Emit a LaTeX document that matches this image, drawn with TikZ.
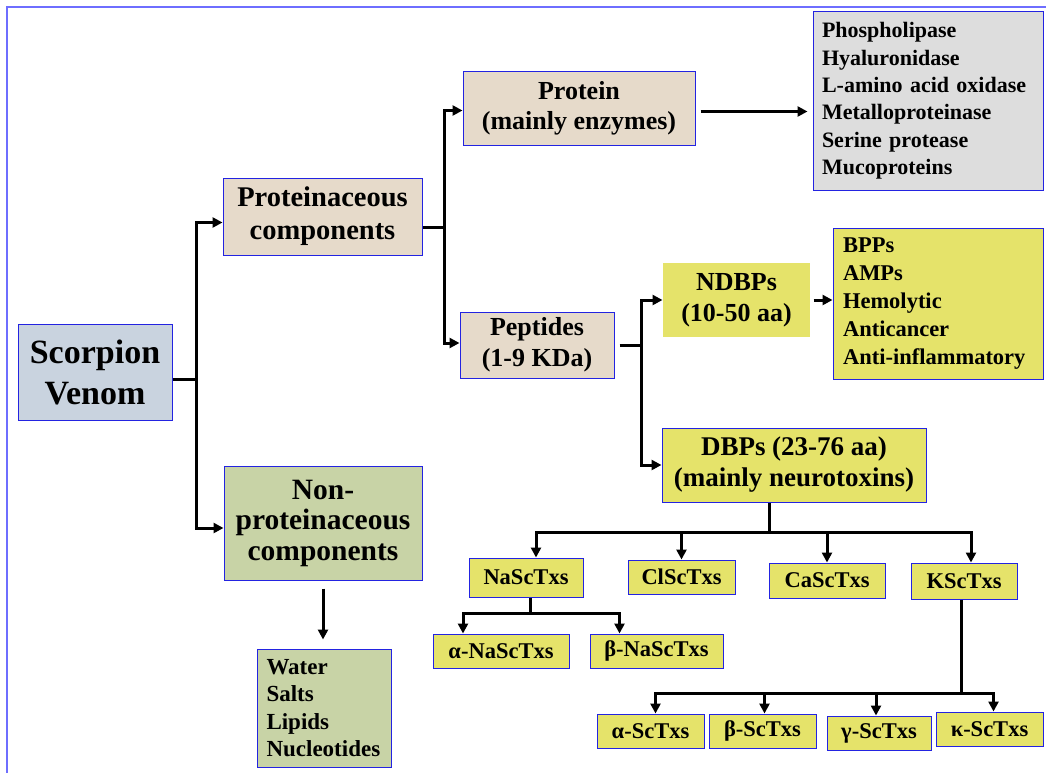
\documentclass[tikz,border=0pt]{standalone}
\usepackage{fontspec}
\setmainfont{Liberation Serif}
\usetikzlibrary{arrows.meta}
\definecolor{bord}{RGB}{35,35,225}
\definecolor{framec}{RGB}{110,110,255}
\definecolor{venomc}{RGB}{201,211,223}
\definecolor{beige}{RGB}{230,218,202}
\definecolor{greenc}{RGB}{200,211,166}
\definecolor{grayc}{RGB}{221,221,221}
\definecolor{yell}{RGB}{229,227,106}
\newcommand{\myfs}[2]{\fontsize{#1}{#2}\selectfont\bfseries}
\begin{document}
\begin{tikzpicture}[x=1pt,y=-1pt,
  box/.style={draw=bord, line width=1pt, inner sep=0pt, align=center},
  lst/.style={draw=bord, line width=1pt, inner xsep=9pt, inner ysep=0pt, align=left},
  conn/.style={line width=3pt, line join=miter},
  arr/.style={line width=3pt, line join=miter, -{Triangle[length=10pt,width=10pt]}},
  small/.style={box, fill=yell, minimum height=34pt, font=\myfs{22.5}{27}}]
\useasboundingbox (0,0) rectangle (1046,773);
\fill[white] (0,0) rectangle (1046,773);
\draw[framec, line width=1.5pt] (7,773) -- (7,7) -- (1046,7);

% main nodes
\node[box, fill=venomc, minimum width=154pt, minimum height=96pt, font=\myfs{34}{41}] (venom) at (95,372) {Scorpion\\Venom};
\node[box, fill=beige, minimum width=199pt, minimum height=77pt, font=\myfs{28.5}{33}] (prot) at (322.5,216.5) {Proteinaceous\\components};
\node[box, fill=greenc, minimum width=198pt, minimum height=114pt, font=\myfs{29.5}{30.5}] (nonprot) at (323,523) {Non-\\proteinaceous\\components};
\node[box, fill=beige, minimum width=232pt, minimum height=73pt, font=\myfs{26}{30}] (protein) at (579,108.5) {Protein\\(mainly enzymes)};
\node[lst, fill=grayc, text width=212pt, minimum height=178pt, font=\myfs{22}{27.4}] (enz) at (928,101) {Phospholipase\\Hyaluronidase\\L-amino acid oxidase\\Metalloproteinase\\Serine protease\\Mucoproteins};
\node[box, fill=beige, minimum width=154pt, minimum height=66pt, font=\myfs{26}{31}] (pep) at (537,345) {Peptides\\(1-9 KDa)};
\node[box, draw=none, fill=yell, minimum width=147pt, minimum height=74pt, font=\myfs{26}{31}] (ndbp) at (736.5,300) {NDBPs\\(10-50 aa)};
\node[lst, fill=yell, inner xsep=10pt, text width=190pt, minimum height=151pt, font=\myfs{22.5}{28}] (bpp) at (938,303.5) {BPPs\\AMPs\\Hemolytic\\Anticancer\\Anti-inflammatory};
\node[box, fill=yell, minimum width=264pt, minimum height=74pt, font=\myfs{27}{31}] (dbp) at (794,465) {DBPs (23-76 aa)\\(mainly neurotoxins)};
\node[lst, fill=greenc, text width=116pt, minimum height=118pt, font=\myfs{23}{27.3}] (water) at (324.5,708) {Water\\Salts\\Lipids\\Nucleotides};

% toxin families
\node[small, minimum width=114pt, minimum height=39pt] (nasc) at (526,577.5) {NaScTxs};
\node[small, minimum width=107pt] (clsc) at (681.5,577) {ClScTxs};
\node[small, minimum width=116pt, minimum height=35pt] (casc) at (827,580.5) {CaScTxs};
\node[small, minimum width=106pt, minimum height=36pt] (ksc) at (964,581) {KScTxs};
\node[small, minimum width=136pt] (anasc) at (501,651) {α-NaScTxs};
\node[small, minimum width=133pt] (bnasc) at (656.5,651) {β-NaScTxs};
\node[small, minimum width=107pt] (asc) at (650.5,731) {α-ScTxs};
\node[small, minimum width=107pt] (bsc) at (762.5,731) {β-ScTxs};
\node[small, minimum width=104pt] (gsc) at (879,733) {γ-ScTxs};
\node[small, minimum width=107pt] (ksc2) at (989.5,729) {κ-ScTxs};

% connectors
\coordinate (j1) at (196,379);
\draw[conn] (j1 -| venom.east) -- (j1);
\draw[arr] (j1) |- ([yshift=-6pt]prot.west);
\draw[arr] (j1) |- ([yshift=-5pt]nonprot.west);

\coordinate (j2) at (444,227);
\draw[conn] (j2 -| prot.east) -- (j2);
\draw[arr] (j2) |- ([yshift=-2pt]protein.west);
\draw[arr] (j2) |- ([yshift=2pt]pep.west);

\draw[arr] ([xshift=5pt,yshift=-3pt]protein.east) -- ([xshift=-5pt,yshift=-3pt]protein.east -| enz.west);

\coordinate (j3) at (641,345);
\draw[conn] ([xshift=5pt]j3 -| pep.east) -- (j3);
\draw[arr] (j3) |- (ndbp.west);
\draw[arr] (j3) |- (dbp.west);
\draw[arr] ([xshift=3pt]ndbp.east) -- (ndbp.east -| bpp.west);

\coordinate (j4) at (769,532);
\draw[conn] (j4 |- dbp.south) -- (j4);
\draw[arr] (j4) -| ([xshift=10pt]nasc.north);
\draw[arr] (j4) -| (clsc.north);
\draw[arr] (j4) -| (casc.north);
\draw[arr] (j4) -| ([xshift=7pt]ksc.north);

\coordinate (j5) at (530,613);
\draw[conn] (j5 |- nasc.south) -- (j5);
\draw[arr] (j5) -| ([xshift=-38pt]anasc.north);
\draw[arr] (j5) -| ([xshift=-37pt]bnasc.north);

\coordinate (j6) at (961,693);
\draw[conn] (j6 |- ksc.south) -- (j6);
\draw[arr] (j6) -| ([xshift=5pt]asc.north);
\draw[arr] (j6) -| ([xshift=2pt]bsc.north);
\draw[arr] (j6) -| ([xshift=-3pt]gsc.north);
\draw[arr] (j6) -| ([xshift=4pt]ksc2.north);

\draw[arr] ([yshift=-8pt]nonprot.south) -- ([yshift=9pt]nonprot.south |- water.north);
\end{tikzpicture}
\end{document}
